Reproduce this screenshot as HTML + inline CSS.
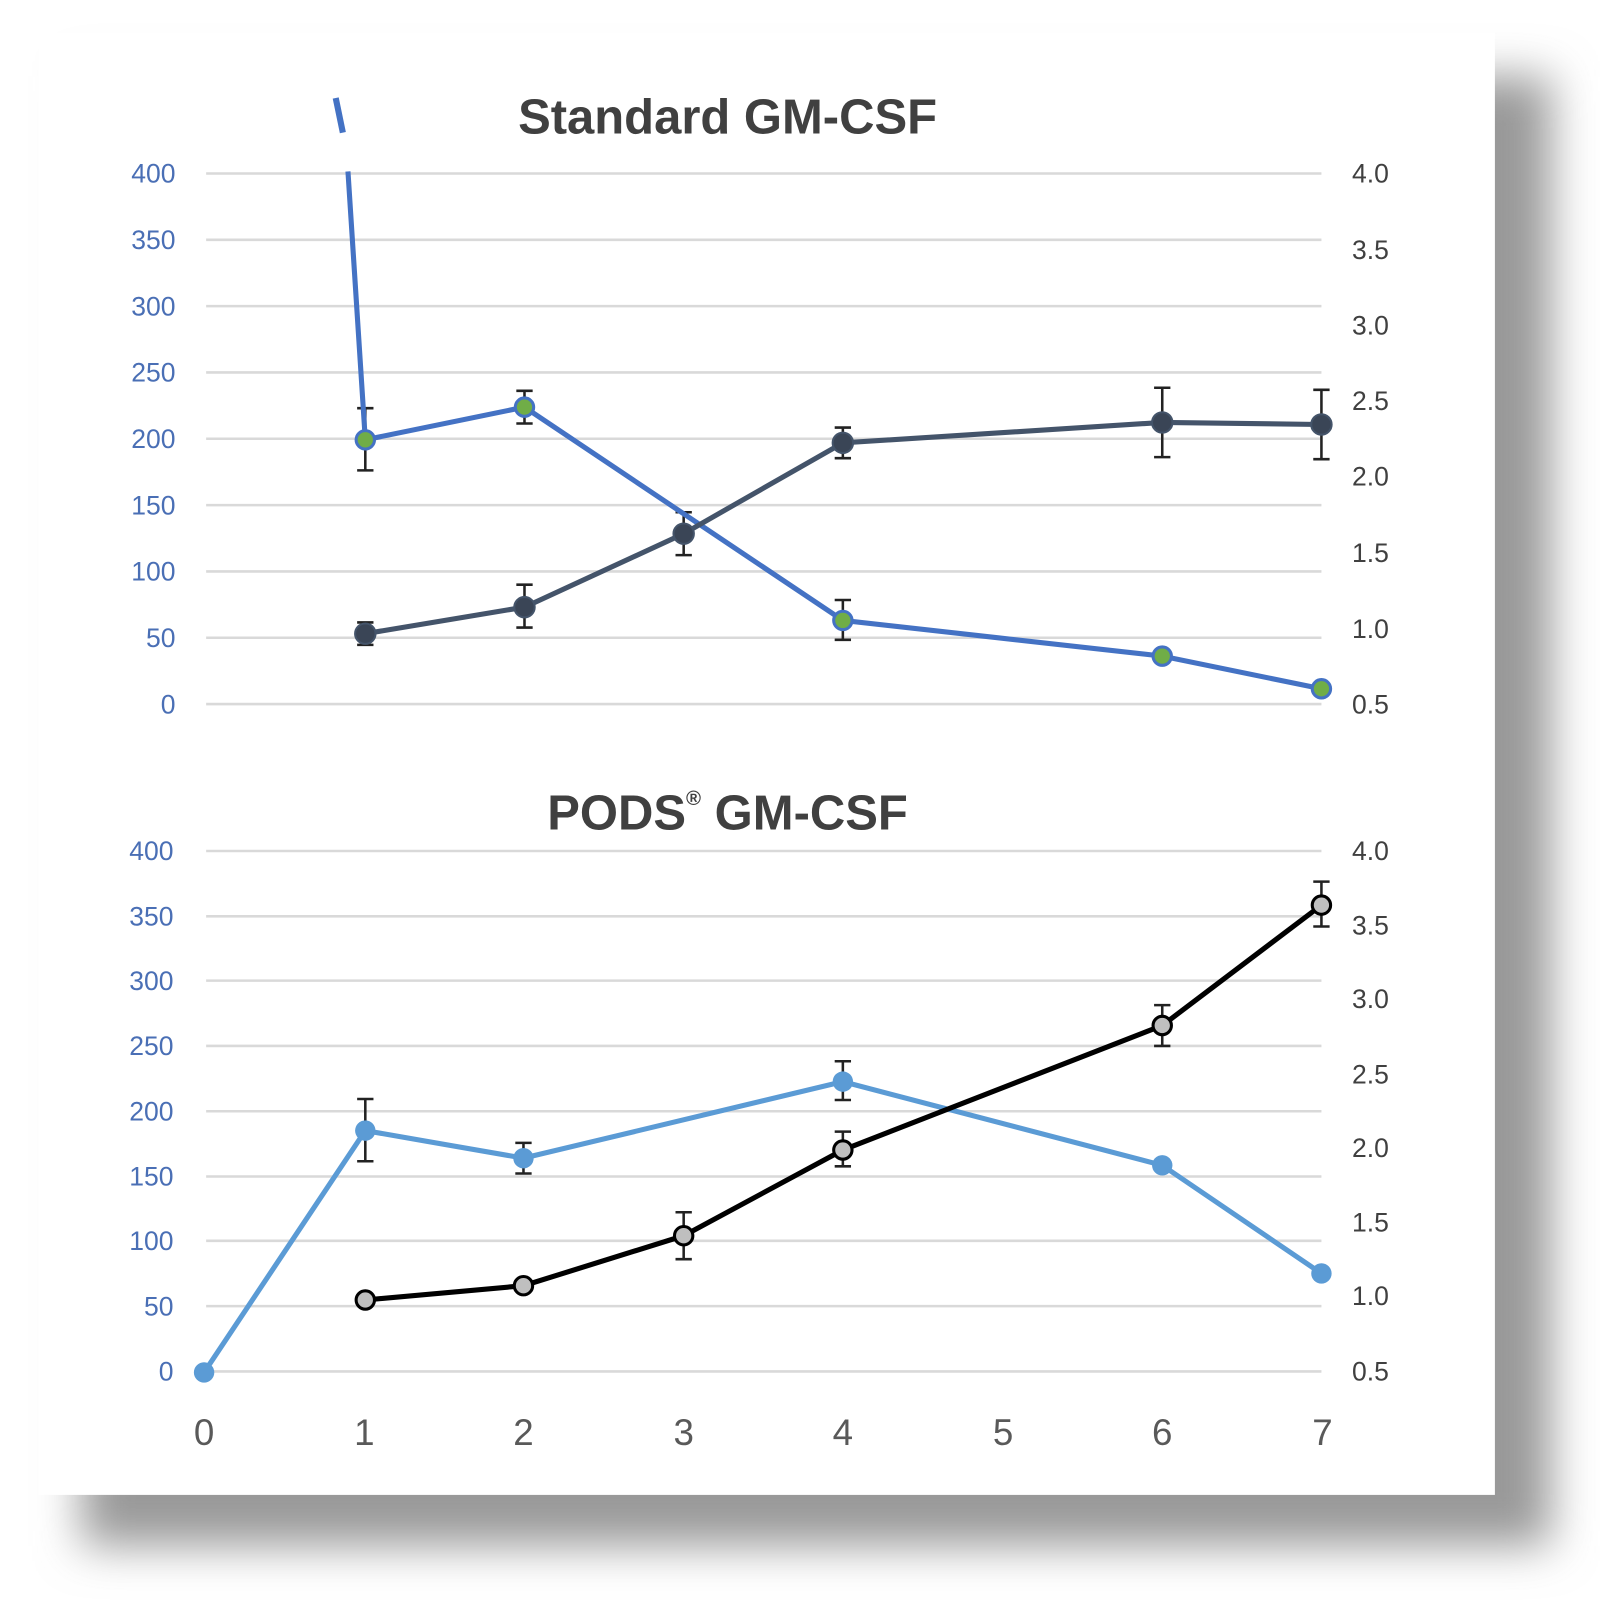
<!DOCTYPE html>
<html><head><style>body{margin:0;background:#fff}svg{display:block}</style></head><body>
<svg width="1600" height="1600" viewBox="0 0 1568 1568" xmlns="http://www.w3.org/2000/svg" font-family="Liberation Sans, sans-serif">
<defs><filter id="b" x="-10%" y="-10%" width="120%" height="120%"><feGaussianBlur stdDeviation="22"/></filter></defs>
<rect width="1568" height="1568" fill="#fff"/>
<rect x="80" y="75" width="1440" height="1440" fill="#999" filter="url(#b)"/>
<rect x="38" y="32" width="1427" height="1433" fill="#fff"/>
<g stroke="#d9d9d9" stroke-width="2.5">
<line x1="202" x2="1295" y1="170" y2="170"/><line x1="202" x2="1295" y1="235" y2="235"/><line x1="202" x2="1295" y1="300" y2="300"/><line x1="202" x2="1295" y1="365" y2="365"/><line x1="202" x2="1295" y1="430" y2="430"/><line x1="202" x2="1295" y1="495" y2="495"/><line x1="202" x2="1295" y1="560" y2="560"/><line x1="202" x2="1295" y1="625" y2="625"/><line x1="202" x2="1295" y1="690" y2="690"/>
<line x1="202" x2="1295" y1="834" y2="834"/><line x1="202" x2="1295" y1="898" y2="898"/><line x1="202" x2="1295" y1="961" y2="961"/><line x1="202" x2="1295" y1="1025" y2="1025"/><line x1="202" x2="1295" y1="1089" y2="1089"/><line x1="202" x2="1295" y1="1153" y2="1153"/><line x1="202" x2="1295" y1="1216" y2="1216"/><line x1="202" x2="1295" y1="1280" y2="1280"/><line x1="202" x2="1295" y1="1344" y2="1344"/>
</g>
<g fill="#404040" font-weight="bold" font-size="48" text-anchor="middle">
<text x="713" y="131">Standard GM-CSF</text>
<text x="713" y="813">PODS<tspan font-size="20" dy="-24">®</tspan><tspan dy="24"> GM-CSF</tspan></text>
</g>
<g fill="#4a6fb5" font-size="26" text-anchor="end">
<text x="172" y="179">400</text><text x="172" y="244">350</text><text x="172" y="309">300</text><text x="172" y="374">250</text><text x="172" y="439">200</text><text x="172" y="504">150</text><text x="172" y="569">100</text><text x="172" y="634">50</text><text x="172" y="699">0</text>
<text x="170" y="843">400</text><text x="170" y="907">350</text><text x="170" y="970">300</text><text x="170" y="1034">250</text><text x="170" y="1098">200</text><text x="170" y="1162">150</text><text x="170" y="1225">100</text><text x="170" y="1289">50</text><text x="170" y="1353">0</text>
</g>
<g fill="#404040" font-size="26">
<text x="1325" y="179">4.0</text><text x="1325" y="254">3.5</text><text x="1325" y="328">3.0</text><text x="1325" y="402">2.5</text><text x="1325" y="476">2.0</text><text x="1325" y="551">1.5</text><text x="1325" y="625">1.0</text><text x="1325" y="699">0.5</text>
<text x="1325" y="843">4.0</text><text x="1325" y="916">3.5</text><text x="1325" y="988">3.0</text><text x="1325" y="1062">2.5</text><text x="1325" y="1134">2.0</text><text x="1325" y="1207">1.5</text><text x="1325" y="1279">1.0</text><text x="1325" y="1353">0.5</text>
</g>
<g fill="#595959" font-size="36" text-anchor="middle">
<text x="200" y="1416">0</text><text x="357" y="1416">1</text><text x="513" y="1416">2</text><text x="670" y="1416">3</text><text x="826" y="1416">4</text><text x="983" y="1416">5</text><text x="1139" y="1416">6</text><text x="1296" y="1416">7</text>
</g>
<!-- top -->
<line x1="329" y1="96" x2="336" y2="130" stroke="#4472c4" stroke-width="6"/>
<g stroke="#222" stroke-width="2.5" fill="none">
<path d="M358 400V461M350 400h16M350 461h16M514 383V415M506 383h16M506 415h16M826 588V627M818 588h16M818 627h16"/>
<path d="M358 610V632M350 610h16M350 632h16M514 573V615M506 573h16M506 615h16M670 502V544M662 502h16M662 544h16M826 419V449M818 419h16M818 449h16M1139 380V448M1131 380h16M1131 448h16M1295 382V450M1287 382h16M1287 450h16"/>
</g>
<polyline points="341,168 358,431 514,399 826,608 1139,643 1295,675" fill="none" stroke="#4472c4" stroke-width="5"/>
<polyline points="358,621 514,595 670,523 826,434 1139,414 1295,416" fill="none" stroke="#44546a" stroke-width="5"/>
<g fill="#70ad47" stroke="#4472c4" stroke-width="3">
<circle cx="358" cy="431" r="9"/><circle cx="514" cy="399" r="9"/><circle cx="826" cy="608" r="9"/><circle cx="1139" cy="643" r="9"/><circle cx="1295" cy="675" r="9"/>
</g>
<g fill="#3a4556" stroke="#44546a" stroke-width="2">
<circle cx="358" cy="621" r="10"/><circle cx="514" cy="595" r="10"/><circle cx="670" cy="523" r="10"/><circle cx="826" cy="434" r="10"/><circle cx="1139" cy="414" r="10"/><circle cx="1295" cy="416" r="10"/>
</g>
<!-- bottom -->
<g stroke="#222" stroke-width="2.5" fill="none">
<path d="M358 1077V1138M350 1077h16M350 1138h16M513 1120V1150M505 1120h16M505 1150h16M826 1040V1078M818 1040h16M818 1078h16"/>
<path d="M670 1188V1234M662 1188h16M662 1234h16M826 1109V1143M818 1109h16M818 1143h16M1139 985V1025M1131 985h16M1131 1025h16M1295 864V908M1287 864h16M1287 908h16"/>
</g>
<polyline points="200,1345 358,1108 513,1135 826,1060 1139,1142 1295,1248" fill="none" stroke="#5b9bd5" stroke-width="5"/>
<polyline points="358,1274 513,1260 670,1211 826,1127 1139,1005 1295,887" fill="none" stroke="#000" stroke-width="5"/>
<g fill="#5b9bd5"><circle cx="200" cy="1345" r="10"/><circle cx="358" cy="1108" r="10"/><circle cx="513" cy="1135" r="10"/><circle cx="826" cy="1060" r="10"/><circle cx="1139" cy="1142" r="10"/><circle cx="1295" cy="1248" r="10"/></g>
<g fill="#bfbfbf" stroke="#000" stroke-width="3"><circle cx="358" cy="1274" r="9"/><circle cx="513" cy="1260" r="9"/><circle cx="670" cy="1211" r="9"/><circle cx="826" cy="1127" r="9"/><circle cx="1139" cy="1005" r="9"/><circle cx="1295" cy="887" r="9"/></g>
</svg>
</body></html>
